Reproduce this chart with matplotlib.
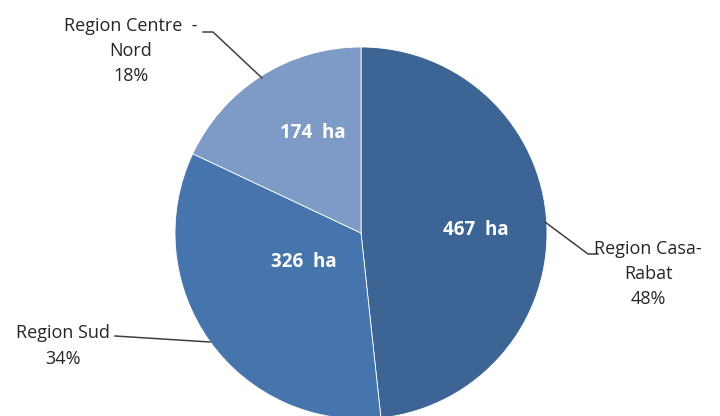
import matplotlib.pyplot as plt

regions = ["Region Casa-\nRabat", "Region Sud", "Region Centre  -\nNord"]
hectares = [467, 326, 174]
colors = ["#3C6595", "#4674AD", "#7E9BC8"]

fig = plt.figure(figsize=(7.2, 4.16), dpi=100)
ax = fig.add_axes([0, 0, 1, 1])

H = 416
cx, cy, r = 361, H - 233, 186
wedges, _ = ax.pie(hectares, colors=colors, startangle=90, counterclock=False,
                   center=(cx, cy), radius=r, frame=True,
                   wedgeprops=dict(linewidth=0.6, edgecolor="white"))
ax.set_xlim(0, 720)
ax.set_ylim(0, 416)
ax.set_aspect("auto")
ax.axis("off")

total = sum(hectares)
pcts = [round(v / total * 100) for v in hectares]

# values inside slices
inner_pos = [(476, 230), (304, 262), (313, 133)]
for v, (x, y) in zip(hectares, inner_pos):
    ax.text(x, H - y, f"{v}  ha", color="white", fontsize=13.5, fontweight="bold",
            ha="center", va="center", family="Open Sans")

# outer labels with leader lines
lbl_pos = [(648, 274), (63, 346), (131, 51)]
leaders = [
    [(545, 222), (588, 254), (598, 254)],
    [(210, 342), (115, 336)],
    [(262, 78), (213, 32), (203, 32)],
]
for name, p, (x, y), pts in zip(regions, pcts, lbl_pos, leaders):
    ax.text(x, H - y, f"{name}\n{p}%", color="#262626", fontsize=13,
            ha="center", va="center", linespacing=1.5, family="Open Sans")
    ax.plot([q[0] for q in pts], [H - q[1] for q in pts], color="#404040", lw=1.1)

fig.savefig("out.png", dpi=100)
